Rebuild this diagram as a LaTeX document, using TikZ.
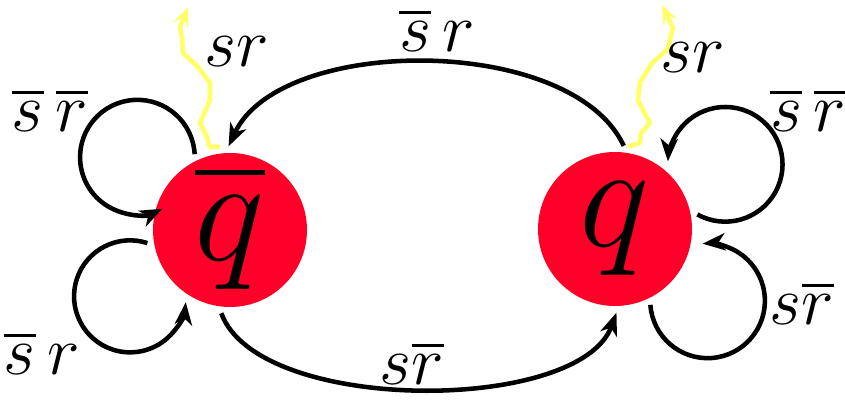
\RequirePackage{fix-cm}
\documentclass[tikz,border=0pt]{standalone}
\usetikzlibrary{arrows.meta}
\definecolor{statered}{RGB}{255,0,40}
\definecolor{flashyellow}{RGB}{255,255,102}
% bar over a symbol: symbol, bar thickness, gap
\newcommand{\ovl}[3]{\vbox{\hrule height #2\kern #3\hbox{$#1$}}}

\begin{document}
\begin{tikzpicture}[x=0.75pt,y=0.75pt,
  state/.style={circle,fill=statered,minimum size=115.5pt,inner sep=0pt,outer sep=5pt},
  statename/.style={inner sep=0pt,font=\fontsize{112}{112}\selectfont},
  trans/.style={line width=3.4pt,-{Stealth[length=17pt,width=13pt,inset=5pt]}},
  flash/.style={flashyellow,line width=3.4pt,line join=round,-{Stealth[length=15pt,width=12pt,inset=7pt]}},
  lbl/.style={anchor=base,font=\fontsize{52}{52}\selectfont}]
\useasboundingbox (0,0) rectangle (845,406);
  % the two states
  \node[state] (qbar) at (230,176) {};
  \node[statename] (qbarname) at (qbar) {\ovl{q}{0.035em}{0.14em}};
  \node[state] (qq) at (615,177) {};
  \node[statename] (qqname) at (qq) {$q$};
  % between the states
  \draw[trans] (qq.84) to[out=115,in=65,looseness=0.8] (qbar.91);
  \draw[trans] (qbar.264) to[out=290,in=250,looseness=0.7] (qq.271);
  % self loops
  \draw[trans] (qbar.115) arc[start angle=3,end angle=296,radius=43pt];
  \draw[trans] (qbar.189) arc[start angle=72,end angle=354,radius=42pt];
  \draw[trans] (qq.10) arc[start angle=241,end angle=537,radius=43pt];
  \draw[trans] (qq.295) arc[start angle=184,end angle=455,radius=43pt];
  % outputs
  \draw[flash] (qbar.97) -- (210,259) -- (207,269) -- (200,283) -- (210,306) -- (210,323)
    -- (198,339) -- (183,353) -- (182,369) -- (180,379) -- (188,399);
  \draw[flash] (qq.81) -- (640,263) -- (641,273) -- (650,283) -- (643,296) -- (638,306)
    -- (640,324) -- (653,344) -- (667,356) -- (670,366) -- (673,378) -- (662,401);
  % labels
  \node[lbl] (ltop) at (437,354) {\ovl{s}{0.04em}{0.12em}\,$r$};
  \node[lbl] (lbot) at (412,21) {$s$\ovl{r}{0.04em}{0.12em}};
  \node[lbl] (lqbar1) at (50,274) {\ovl{s}{0.04em}{0.12em}\,\ovl{r}{0.04em}{0.12em}};
  \node[lbl] (lqbar2) at (42,31) {\ovl{s}{0.04em}{0.12em}\,$r$};
  \node[lbl] (lq1) at (808,274) {\ovl{s}{0.04em}{0.12em}\,\ovl{r}{0.04em}{0.12em}};
  \node[lbl] (lq2) at (802,81) {$s$\ovl{r}{0.04em}{0.12em}};
  \node[lbl] (lout1) at (237,339) {$sr$};
  \node[lbl] (lout2) at (693,333) {$sr$};
\end{tikzpicture}
\end{document}
